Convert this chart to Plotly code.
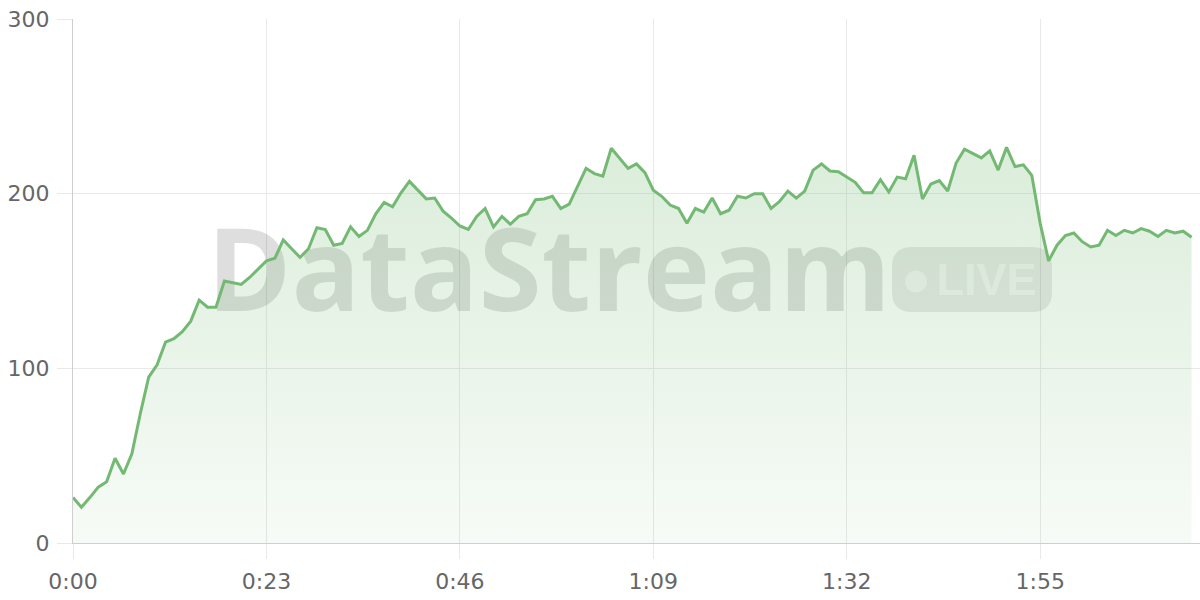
import plotly.graph_objects as go

# ---- data (seconds since start, value) ----
seconds = list(range(134))
values = [
    26, 20.5, 26, 32, 35, 48.5, 39.5, 51, 74, 95,
    102, 115, 117, 121, 127, 139, 135, 135, 150, 149,
    148, 152, 157, 161.5, 163, 173.5, 168.5, 163.5, 168.5, 180.5,
    179.5, 170.5, 171.5, 181, 175.5, 179, 188.5, 195, 192.5, 200.5,
    207, 202, 197, 197.5, 190, 186, 181.5, 179.5, 187, 191.5,
    181, 187, 182.5, 187, 188.5, 196.5, 197, 198.5, 191.5, 194,
    204, 214.5, 211.5, 210, 226, 220, 214.5, 217, 212, 202,
    198.5, 193.5, 191.5, 183, 191.5, 189.5, 197.5, 188.5, 190.5, 198.5,
    197.5, 200, 200, 191.5, 195.5, 201.5, 197.5, 201.5, 213.5, 217,
    213, 212.5, 209.5, 206.5, 200.5, 200.5, 208, 201, 209.5, 208.5,
    222, 197, 205.5, 207.5, 201.5, 217.5, 225.5, 223, 220.5, 224.5,
    213.5, 226.5, 215.5, 216.5, 210.5, 183, 161.5, 170.5, 176, 177.5,
    172.5, 169.5, 170.5, 179, 176, 179, 177.5, 180, 178.5, 175.5,
    179, 177.5, 178.5, 175,
]
x_tickvals = [0, 23, 46, 69, 92, 115]
x_ticktext = ["0:00", "0:23", "0:46", "1:09", "1:32", "1:55"]
y_tickvals = [0, 100, 200, 300]

X_RANGE = [0, 134]
Y_RANGE = [0, 300]

# layout geometry (pixels)
W, H = 1200, 600
ML, MR, MT, MB = 73, 0, 19, 57
PW = W - ML - MR
PH = H - MT - MB


def px2x(px):
    return X_RANGE[0] + (px - ML) / PW * (X_RANGE[1] - X_RANGE[0])


def py2y(py):
    return Y_RANGE[0] + (H - MB - py) / PH * (Y_RANGE[1] - Y_RANGE[0])


fig = go.Figure()
fig.add_trace(go.Scatter(
    x=seconds, y=values, mode="lines",
    line=dict(color="#74b973", width=3),
    fill="tozeroy",
    fillgradient=dict(
        type="vertical",
        colorscale=[[0, "rgba(116,185,115,0.06)"], [1, "rgba(116,185,115,0.26)"]],
        start=0, stop=230,
    ),
    hoverinfo="skip",
))

# ---- watermark ----
wm_text_color = "rgba(0,0,0,0.13)"
shapes = []
shapes.append(dict(
    type="rect", xref="x", yref="y", layer="between",
    x0=px2x(212), x1=px2x(886), y0=py2y(316), y1=py2y(232),
    line=dict(width=0), fillcolor="rgba(0,0,0,0)",
    label=dict(text="<b>DataStream</b>", textposition="middle center",
               font=dict(family="Open Sans", size=114, color=wm_text_color)),
))
# badge rounded rect
bx0, bx1, by0, by1, r = 892, 1052, 247, 312, 20
def P(px, py):
    return f"{px2x(px)},{py2y(py)}"
path = (f"M {P(bx0 + r, by0)} L {P(bx1 - r, by0)} Q {P(bx1, by0)} {P(bx1, by0 + r)} "
        f"L {P(bx1, by1 - r)} Q {P(bx1, by1)} {P(bx1 - r, by1)} "
        f"L {P(bx0 + r, by1)} Q {P(bx0, by1)} {P(bx0, by1 - r)} "
        f"L {P(bx0, by0 + r)} Q {P(bx0, by0)} {P(bx0 + r, by0)} Z")
shapes.append(dict(type="path", path=path, xref="x", yref="y", layer="between",
                   line=dict(width=0), fillcolor="rgba(0,0,0,0.09)"))
# dot
cx, cy, cr = 916, 281.5, 11
shapes.append(dict(type="circle", xref="x", yref="y", layer="between",
                   x0=px2x(cx - cr), x1=px2x(cx + cr), y0=py2y(cy + cr), y1=py2y(cy - cr),
                   line=dict(width=0), fillcolor="rgba(255,255,255,0.5)"))
shapes.append(dict(
    type="rect", xref="x", yref="y", layer="between",
    x0=px2x(938), x1=px2x(1035), y0=py2y(292), y1=py2y(259),
    line=dict(width=0), fillcolor="rgba(0,0,0,0)",
    label=dict(text="<b>LIVE</b>", textposition="middle center",
               font=dict(family="Liberation Sans", size=45, color="rgba(255,255,255,0.55)")),
))

tick_font = dict(family="DejaVu Sans", size=22, color="#666666")

fig.update_layout(
    width=W, height=H,
    margin=dict(l=ML, r=MR, t=MT, b=MB, pad=0),
    paper_bgcolor="white", plot_bgcolor="white",
    showlegend=False,
    shapes=shapes,
    xaxis=dict(
        range=X_RANGE, tickmode="array", tickvals=x_tickvals, ticktext=x_ticktext,
        showgrid=True, gridcolor="#e9e9e9", gridwidth=1,
        showline=True, linecolor="#cfcfcf", linewidth=1,
        ticks="outside", ticklen=15, tickcolor="#e9e9e9", tickwidth=1,
        tickfont=tick_font, zeroline=False, ticklabelstandoff=4,
    ),
    yaxis=dict(
        range=Y_RANGE, tickmode="array", tickvals=y_tickvals,
        showgrid=True, gridcolor="#e9e9e9", gridwidth=1,
        showline=True, linecolor="#cfcfcf", linewidth=1,
        ticks="outside", ticklen=15, tickcolor="#e9e9e9", tickwidth=1,
        tickfont=tick_font, zeroline=False, ticklabelstandoff=3,
    ),
)

fig.write_html(
    "out.html",
    config={"displayModeBar": False},
    post_script="document.body.style.margin='0px';document.body.style.overflow='hidden';",
)
